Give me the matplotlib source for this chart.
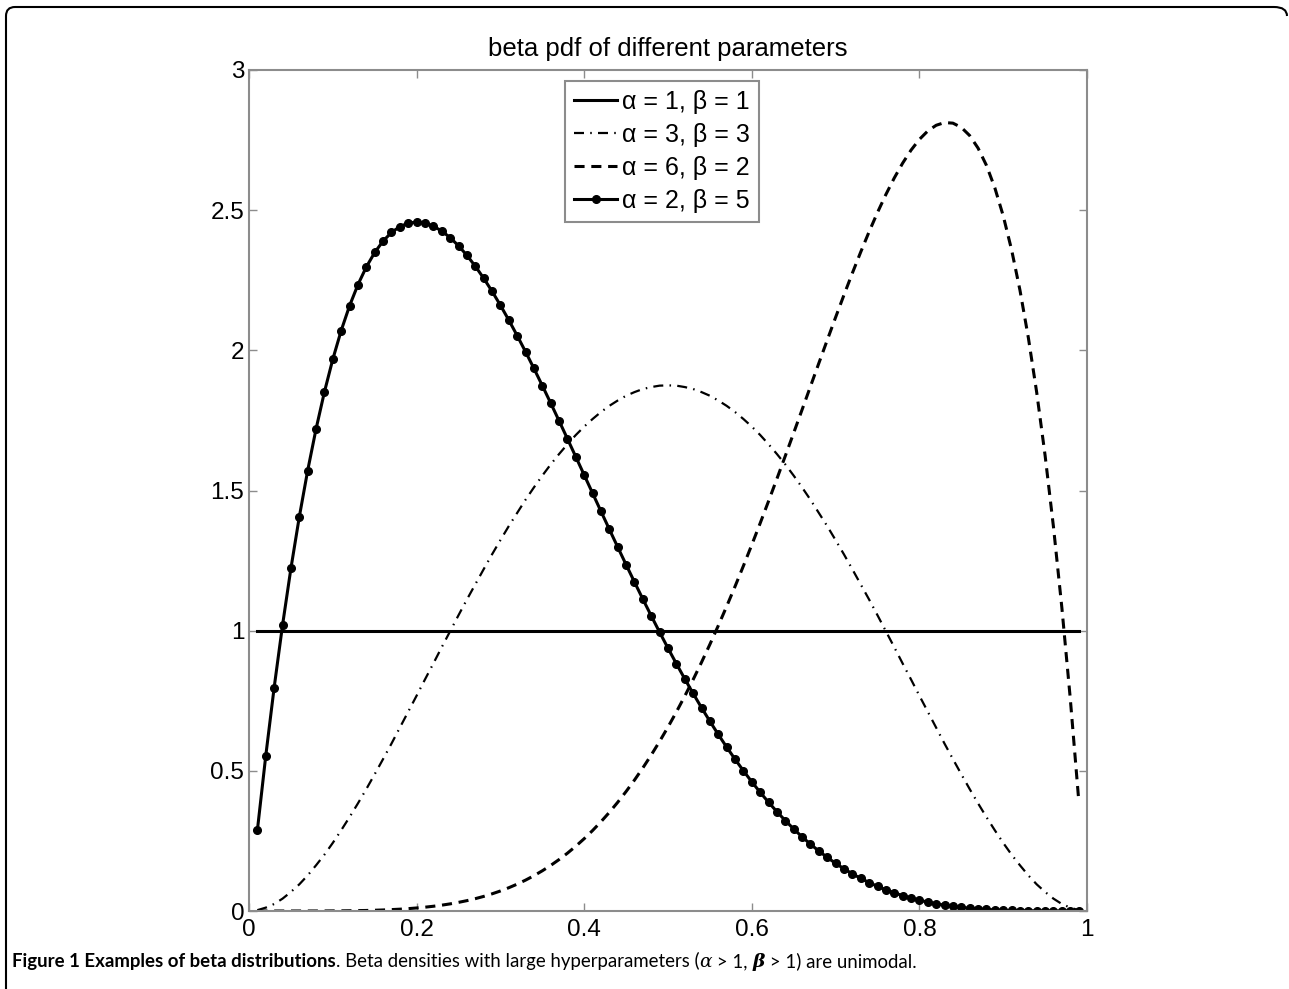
import numpy as np
import matplotlib
matplotlib.use("Agg")
import matplotlib.pyplot as plt
from matplotlib.path import Path
from matplotlib.patches import PathPatch

plt.rcParams['font.family'] = ['Liberation Sans', 'DejaVu Sans']

# x grid used by the curves (0.01 ... 0.99)
x = np.arange(1, 100) / 100.0

# alpha = 1, beta = 1 (flat)
y_11 = [1.0] * 99

# alpha = 3, beta = 3 (symmetric about 0.5), first half
y_33_half = [0.003, 0.012, 0.025, 0.044, 0.068, 0.095, 0.127, 0.163, 0.201, 0.243,
             0.288, 0.335, 0.384, 0.435, 0.488, 0.542, 0.597, 0.654, 0.711, 0.768,
             0.826, 0.883, 0.941, 0.998, 1.055, 1.111, 1.165, 1.219, 1.272, 1.323,
             1.373, 1.420, 1.467, 1.511, 1.553, 1.593, 1.630, 1.665, 1.698, 1.728,
             1.755, 1.780, 1.802, 1.821, 1.838, 1.851, 1.862, 1.869, 1.874, 1.875]
y_33 = y_33_half + y_33_half[-2::-1]

# alpha = 6, beta = 2
y_62 = [0.0, 0.0, 0.0, 0.0, 0.00001, 0.00003, 0.00007, 0.0001, 0.0002, 0.0004,
        0.0006, 0.0009, 0.0014, 0.0019, 0.0027, 0.0037, 0.0050, 0.0065, 0.0084, 0.0108,
        0.0136, 0.0169, 0.0208, 0.0254, 0.0308, 0.0369, 0.0440, 0.0520, 0.0612, 0.0714,
        0.0830, 0.0958, 0.1101, 0.1259, 0.1434, 0.1625, 0.1835, 0.2063, 0.2312, 0.2580,
        0.2871, 0.3184, 0.3519, 0.3879, 0.4263, 0.4671, 0.5105, 0.5565, 0.6051, 0.6563,
        0.7101, 0.7665, 0.8255, 0.8871, 0.9512, 1.0178, 1.0867, 1.1578, 1.2311, 1.3064,
        1.3834, 1.4621, 1.5422, 1.6235, 1.7056, 1.7883, 1.8713, 1.9541, 2.0364, 2.1177,
        2.1976, 2.2755, 2.3509, 2.4232, 2.4917, 2.5558, 2.6148, 2.6677, 2.7140, 2.7525,
        2.7825, 2.8028, 2.8125, 2.8104, 2.7953, 2.7661, 2.7214, 2.6598, 2.5798, 2.4801,
        2.3588, 2.2145, 2.0453, 1.8494, 1.6249, 1.3698, 1.0820, 0.7593, 0.3994]

# alpha = 2, beta = 5
y_25 = [0.2882, 0.5534, 0.7968, 1.0192, 1.2218, 1.4054, 1.5709, 1.7193, 1.8515, 1.9683,
        2.0705, 2.1589, 2.2343, 2.2974, 2.3490, 2.3898, 2.4204, 2.4414, 2.4537, 2.4576,
        2.4539, 2.4430, 2.4256, 2.4021, 2.3730, 2.3390, 2.3003, 2.2574, 2.2108, 2.1609,
        2.1080, 2.0526, 1.9950, 1.9354, 1.8743, 1.8119, 1.7486, 1.6845, 1.6200, 1.5552,
        1.4904, 1.4258, 1.3617, 1.2981, 1.2354, 1.1734, 1.1125, 1.0529, 0.9945, 0.9375,
        0.8820, 0.8281, 0.7759, 0.7253, 0.6767, 0.6297, 0.5846, 0.5415, 0.5002, 0.4608,
        0.4233, 0.3878, 0.3542, 0.3225, 0.2927, 0.2645, 0.2384, 0.2140, 0.1913, 0.1701,
        0.1506, 0.1328, 0.1163, 0.1015, 0.0879, 0.0757, 0.0647, 0.0548, 0.0460, 0.0384,
        0.0317, 0.0258, 0.0208, 0.0165, 0.0129, 0.0099, 0.0075, 0.0055, 0.0039, 0.0027,
        0.0018, 0.0011, 0.0007, 0.0004, 0.0002, 0.0001, 0.0, 0.0, 0.0]

labels = [u'\u03b1 = 1, \u03b2 = 1', u'\u03b1 = 3, \u03b2 = 3',
          u'\u03b1 = 6, \u03b2 = 2', u'\u03b1 = 2, \u03b2 = 5']
xticks = [0, 0.2, 0.4, 0.6, 0.8, 1]
yticks = [0, 0.5, 1, 1.5, 2, 2.5, 3]

W, H = 1289, 989
fig = plt.figure(figsize=(W / 100, H / 100), dpi=100)
ax = fig.add_axes([249 / W, 1 - 911 / H, 838 / W, 841 / H])

ax.plot(x, y_11, color='black', lw=2.2, label=labels[0])
ax.plot(x, y_33, color='black', lw=1.6, dashes=(4.5, 2.8, 0.7, 2.8), label=labels[1])
ax.plot(x, y_62, color='black', lw=2.2, dashes=(3.3, 2.2), label=labels[2])
ax.plot(x, y_25, color='black', lw=2.2, marker='o', markersize=5.5, label=labels[3])

ax.set_xlim(0, 1)
ax.set_ylim(0, 3)
ax.set_xticks(xticks)
ax.set_xticklabels(['0', '0.2', '0.4', '0.6', '0.8', '1'])
ax.set_yticks(yticks)
ax.set_yticklabels(['0', '0.5', '1', '1.5', '2', '2.5', '3'])
ax.tick_params(direction='in', top=True, right=True, length=6, width=1,
               color='#8c8c8c', labelsize=17.5)
ax.tick_params(axis='x', pad=5.5)
ax.tick_params(axis='y', pad=3.5)
for s in ax.spines.values():
    s.set_color('#8c8c8c')
    s.set_linewidth(1.5)

ax.set_title('beta pdf of different parameters', fontsize=18.5, pad=10)

leg = ax.legend(loc='upper center', bbox_to_anchor=((662 - 249) / 838, (911 - 81) / 841),
                fontsize=18, handlelength=1.72, handletextpad=0.2, labelspacing=0.36,
                borderpad=0.35, fancybox=False, framealpha=1, borderaxespad=0)
leg.get_frame().set_edgecolor('#8c8c8c')
leg.get_frame().set_linewidth(1.5)

# frame around the figure (rounded top corners, open at the bottom)
r = 9
verts = [(6, H), (6, 7 + r), (6, 7), (6 + r, 7), (W - 6 - r, 7), (W - 2, 7), (W - 2, 7 + r), (W - 2, 16)]
codes = [Path.MOVETO, Path.LINETO, Path.CURVE3, Path.CURVE3, Path.LINETO, Path.CURVE3, Path.CURVE3, Path.LINETO]
verts = [(vx / W, 1 - vy / H) for vx, vy in verts]
fig.patches.append(PathPatch(Path(verts, codes), transform=fig.transFigure,
                             fill=False, lw=1.5, edgecolor='black'))

# caption, built from pieces
pieces = [
    ('Figure 1 Examples of beta distributions', dict(weight='bold')),
    ('. Beta densities with large hyperparameters (', {}),
    (u'\u03b1', dict(style='italic', family='DejaVu Serif')),
    (' > 1, ', {}),
    (u'\u03b2', dict(style='italic', weight='bold', family='DejaVu Serif')),
    (' > 1) are unimodal.', {}),
]
renderer = fig.canvas.get_renderer()
cx = 12
for txt, kw in pieces:
    kw = dict(kw)
    fam = kw.pop('family', 'Lato')
    t = fig.text(cx / W, 1 - 967 / H, txt, fontsize=13.4, family=fam, va='baseline', ha='left', **kw)
    bb = t.get_window_extent(renderer=renderer)
    cx = bb.x1

fig.savefig('out.png', dpi=100)
